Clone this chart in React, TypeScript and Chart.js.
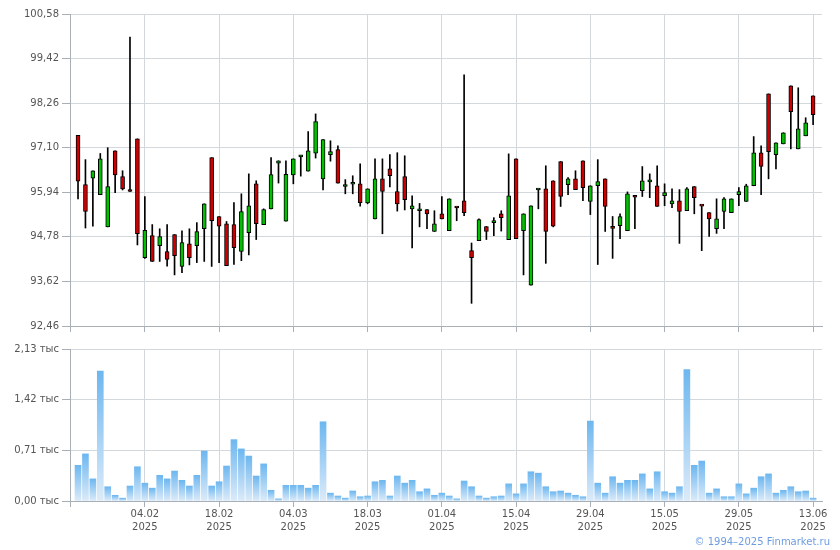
import React, { useEffect, useRef } from 'react';
import { Chart, registerables } from 'chart.js';

Chart.register(...registerables);

// ---- data ----
const opens = [97.42, 96.14, 96.31, 95.88, 95.04, 97.02, 96.35, 95.97, 97.33, 94.24,
  94.81, 94.55, 94.40, 94.84, 94.01, 94.60, 94.55, 94.99, 96.84, 95.31,
  95.12, 95.10, 94.40, 94.89, 96.16, 95.10, 95.51, 96.70, 95.19, 96.39,
  96.86, 96.49, 96.96, 96.29, 96.92, 97.05, 96.09, 96.15, 96.16, 95.66,
  95.25, 96.29, 96.55, 95.96, 96.35, 95.51, 95.46, 95.49, 94.92, 95.38,
  94.94, 95.54, 95.72, 94.42, 94.68, 95.05, 95.15, 95.38, 94.71, 96.81,
  94.94, 93.52, 96.00, 96.03, 96.24, 96.74, 96.14, 96.29, 96.76, 95.70,
  96.11, 96.29, 95.01, 95.07, 94.94, 95.82, 95.98, 96.21, 96.11, 95.85,
  95.64, 95.72, 95.46, 96.09, 95.59, 95.41, 94.99, 95.44, 95.41, 95.88,
  95.70, 96.11, 96.97, 98.50, 96.92, 97.20, 98.71, 97.07, 97.41, 98.45];
const highs = [97.42, 96.79, 96.50, 96.95, 97.10, 97.02, 96.50, 99.98, 97.33, 95.83,
  95.10, 94.99, 95.10, 94.84, 94.94, 94.99, 95.15, 95.64, 96.84, 95.31,
  95.18, 95.67, 95.90, 96.42, 96.24, 95.51, 96.84, 96.76, 96.76, 96.81,
  96.90, 97.52, 97.98, 97.31, 97.28, 97.15, 96.27, 96.37, 96.68, 96.03,
  96.81, 96.81, 96.92, 96.97, 96.89, 95.85, 95.65, 95.49, 95.46, 95.83,
  95.77, 95.55, 99.00, 94.62, 95.25, 95.05, 95.28, 95.46, 96.94, 96.81,
  95.38, 95.59, 96.02, 96.63, 96.24, 96.74, 96.32, 96.50, 96.76, 96.11,
  96.79, 96.29, 95.31, 95.38, 95.95, 95.83, 96.61, 96.42, 96.63, 96.16,
  96.03, 96.01, 96.06, 96.09, 95.59, 95.41, 95.77, 95.80, 95.77, 96.06,
  96.15, 97.39, 97.15, 98.50, 97.23, 97.49, 98.71, 98.66, 97.88, 98.45];
const lows = [95.77, 95.01, 95.06, 95.88, 95.04, 95.93, 96.00, 95.96, 94.57, 94.22,
  94.14, 94.14, 94.02, 93.79, 93.85, 94.05, 94.11, 94.14, 94.01, 94.11,
  94.03, 94.06, 94.16, 94.31, 94.71, 95.10, 95.51, 96.18, 95.19, 96.16,
  96.36, 96.49, 96.83, 96.00, 96.75, 96.18, 95.90, 95.90, 95.58, 95.64,
  95.25, 94.86, 96.08, 95.45, 95.48, 94.49, 95.04, 94.99, 94.92, 95.25,
  94.94, 95.20, 95.33, 93.05, 94.68, 94.71, 94.81, 94.93, 94.71, 94.73,
  93.79, 93.52, 95.51, 94.09, 95.04, 95.57, 95.88, 96.01, 95.72, 95.36,
  94.06, 94.92, 94.22, 94.73, 94.94, 94.99, 95.83, 95.80, 95.57, 95.59,
  95.54, 94.61, 95.46, 95.38, 94.42, 94.79, 94.87, 94.99, 95.41, 95.59,
  95.70, 96.11, 95.88, 96.29, 96.55, 97.20, 97.07, 97.07, 97.41, 97.70];
const closes = [96.23, 95.44, 96.50, 96.81, 96.09, 96.39, 96.03, 95.96, 94.86, 94.95,
  94.14, 94.79, 94.19, 94.29, 94.63, 94.24, 94.92, 95.64, 95.20, 95.06,
  94.03, 94.50, 95.44, 95.59, 95.12, 95.49, 96.40, 96.76, 96.41, 96.81,
  96.88, 97.02, 97.78, 97.31, 97.00, 96.18, 96.14, 96.17, 95.67, 96.03,
  96.29, 95.96, 96.37, 95.64, 95.75, 95.59, 95.51, 95.38, 95.12, 95.25,
  95.77, 95.53, 95.41, 94.24, 95.23, 94.92, 95.19, 95.28, 95.85, 94.73,
  95.38, 95.59, 96.01, 94.92, 95.06, 95.83, 96.29, 96.01, 96.06, 96.11,
  96.22, 95.57, 95.00, 95.31, 95.90, 95.81, 96.24, 96.22, 95.57, 95.93,
  95.72, 95.44, 96.03, 95.80, 95.58, 95.25, 95.25, 95.77, 95.77, 95.96,
  96.11, 96.97, 96.61, 97.00, 97.23, 97.49, 98.04, 97.59, 97.75, 97.96];
// volumes in thousands
const volumes = [0.50, 0.66, 0.31, 1.82, 0.20, 0.08, 0.04, 0.21, 0.48, 0.25,
  0.18, 0.36, 0.31, 0.42, 0.29, 0.21, 0.36, 0.70, 0.21, 0.27,
  0.49, 0.86, 0.73, 0.63, 0.35, 0.52, 0.15, 0.03, 0.22, 0.22,
  0.22, 0.18, 0.22, 1.11, 0.11, 0.07, 0.04, 0.14, 0.06, 0.07,
  0.27, 0.29, 0.07, 0.35, 0.25, 0.29, 0.13, 0.17, 0.08, 0.11,
  0.07, 0.03, 0.28, 0.20, 0.07, 0.04, 0.06, 0.07, 0.24, 0.10,
  0.24, 0.41, 0.39, 0.20, 0.13, 0.14, 0.11, 0.08, 0.06, 1.12,
  0.25, 0.11, 0.34, 0.25, 0.29, 0.29, 0.38, 0.17, 0.41, 0.13,
  0.11, 0.20, 1.84, 0.50, 0.56, 0.11, 0.17, 0.06, 0.06, 0.24,
  0.10, 0.18, 0.34, 0.38, 0.11, 0.15, 0.20, 0.13, 0.14, 0.04];
const priceTicks = [92.46, 93.62, 94.78, 95.94, 97.10, 98.26, 99.42, 100.58];
const volumeTicks = [0, 0.71, 1.42, 2.13];
const dateTickIndex = [9, 19, 29, 39, 49, 59, 69, 79, 89, 99];
const dateTickLabels = ['04.02', '18.02', '04.03', '18.03', '01.04', '15.04', '29.04', '15.05', '29.05', '13.06'];
const yearLabel = '2025';

// ---- styles ----
const X_MIN = -1.08;
const X_MAX = 100.2;
const GRID = '#d3d8dc';
const AXIS = '#a9afb6';
const TEXT = '#555555';
const RED = '#cc0000';
const GREEN = '#00c000';
const FONT = 'DejaVu Sans';

function xScale(showLabels: boolean, height: number): any {
  return {
    type: 'linear',
    min: X_MIN,
    max: X_MAX,
    offset: false,
    afterBuildTicks: (s: any) => {
      s.ticks = [X_MIN, ...dateTickIndex].map((v) => ({ value: v }));
    },
    afterFit: (s: any) => {
      s.height = height;
      s.paddingLeft = 0;
      s.paddingRight = 0;
    },
    grid: {
      offset: false,
      color: (c: any) => (c.index === 0 ? AXIS : GRID),
      tickColor: AXIS,
      tickLength: 6,
      drawTicks: true,
    },
    border: { color: AXIS },
    ticks: {
      display: showLabels,
      autoSkip: false,
      maxRotation: 0,
      padding: 1,
      color: TEXT,
      font: { family: FONT, size: 10, lineHeight: 1.3 },
      callback: (v: any) => {
        const k = dateTickIndex.indexOf(v);
        return k < 0 ? '' : [dateTickLabels[k], yearLabel];
      },
    },
  };
}

function PriceChart() {
  const ref = useRef<HTMLCanvasElement>(null);
  useEffect(() => {
    const wick = opens.map((_, i) => ({ x: i, y: [lows[i], highs[i]] }));
    const body = opens.map((o, i) => ({ x: i, y: [o, closes[i]] }));
    const chart = new Chart(ref.current!, {
      type: 'bar',
      data: {
        datasets: [
          {
            data: body as any,
            order: 0,
            backgroundColor: opens.map((o, i) => (closes[i] >= o ? GREEN : RED)),
            borderColor: '#000',
            borderWidth: 1,
            borderSkipped: false,
            barThickness: 4,
            minBarLength: 2,
            grouped: false,
          } as any,
          {
            data: wick as any,
            order: 1,
            backgroundColor: '#000',
            borderWidth: 0,
            barThickness: 1,
            grouped: false,
          } as any,
        ],
      },
      options: {
        animation: false,
        responsive: false,
        events: [],
        layout: { padding: { left: 8, right: 18, top: 14, bottom: 0 } },
        plugins: { legend: { display: false }, tooltip: { enabled: false } },
        scales: {
          x: xScale(false, 14),
          y: {
            min: 92.46,
            max: 100.58,
            afterBuildTicks: (s: any) => {
              s.ticks = priceTicks.map((v) => ({ value: v }));
            },
            afterFit: (s: any) => {
              s.width = 62;
              s.paddingTop = 0;
              s.paddingBottom = 0;
            },
            grid: { color: GRID, tickColor: AXIS, tickLength: 8 },
            border: { color: AXIS },
            ticks: {
              padding: 3,
              color: TEXT,
              font: { family: FONT, size: 10 },
              callback: (v: any) => Number(v).toFixed(2).replace('.', ','),
            },
          },
        },
      } as any,
    });
    return () => chart.destroy();
  }, []);
  return <canvas ref={ref} width={840} height={340} style={{ width: 840, height: 340, display: 'block' }} />;
}

function VolumeChart() {
  const ref = useRef<HTMLCanvasElement>(null);
  useEffect(() => {
    const data = volumes.map((v, i) => ({ x: i, y: v }));
    const chart = new Chart(ref.current!, {
      type: 'bar',
      data: {
        datasets: [
          {
            data: data as any,
            barThickness: 6,
            borderWidth: 0,
            backgroundColor: (ctx: any) => {
              const ch = ctx.chart;
              const ys = ch.scales && ch.scales.y;
              const raw = ctx.raw;
              if (!ys || !ch.chartArea || !raw) return '#8cc4f2';
              const top = ys.getPixelForValue(raw.y);
              const bottom = ys.getPixelForValue(0);
              if (!isFinite(top) || !isFinite(bottom) || bottom - top < 1) return '#bcdcf6';
              const g = ch.ctx.createLinearGradient(0, top, 0, bottom);
              g.addColorStop(0, '#6db7f0');
              g.addColorStop(1, '#dcebf9');
              return g;
            },
          } as any,
        ],
      },
      options: {
        animation: false,
        responsive: false,
        events: [],
        layout: { padding: { left: 8, right: 18, top: 14, bottom: 0 } },
        plugins: { legend: { display: false }, tooltip: { enabled: false } },
        scales: {
          x: xScale(true, 49),
          y: {
            min: 0,
            max: 2.13,
            afterBuildTicks: (s: any) => {
              s.ticks = volumeTicks.map((v) => ({ value: v }));
            },
            afterFit: (s: any) => {
              s.width = 62;
              s.paddingTop = 0;
              s.paddingBottom = 0;
            },
            grid: { color: GRID, tickColor: AXIS, tickLength: 8 },
            border: { color: AXIS },
            ticks: {
              padding: 3,
              color: TEXT,
              font: { family: FONT, size: 10 },
              callback: (v: any) => Number(v).toFixed(2).replace('.', ',') + ' тыс',
            },
          },
        },
      } as any,
    });
    return () => chart.destroy();
  }, []);
  return <canvas ref={ref} width={840} height={215} style={{ width: 840, height: 215, display: 'block' }} />;
}

export default function App() {
  return (
    <div style={{ position: 'absolute', left: 0, top: 0, width: 840, height: 550, background: '#fff', overflow: 'hidden' }}>
      <div style={{ position: 'absolute', left: 0, top: 0 }}>
        <PriceChart />
      </div>
      <div style={{ position: 'absolute', left: 0, top: 335 }}>
        <VolumeChart />
      </div>
      <div
        style={{
          position: 'absolute',
          right: 10,
          top: 535,
          fontFamily: FONT,
          fontSize: 10,
          lineHeight: '13px',
          color: '#6d9de0',
          whiteSpace: 'nowrap',
        }}
      >
        © 1994–2025 Finmarket.ru
      </div>
    </div>
  );
}
